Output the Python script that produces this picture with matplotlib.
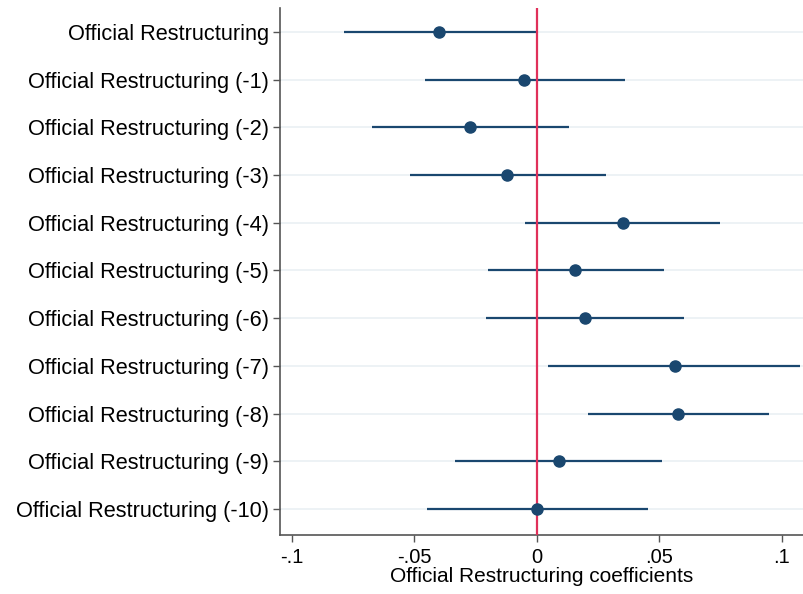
import matplotlib.pyplot as plt
import numpy as np

plt.rcParams['font.family'] = ['Liberation Sans', 'DejaVu Sans']

labels = ['Official Restructuring'] + ['Official Restructuring (-%d)' % i for i in range(1, 11)]
coef = [-0.0400, -0.0053, -0.0273, -0.0122, 0.0351, 0.0155, 0.0196, 0.0563, 0.0576, 0.0090, 0.0000]
ci_low = [-0.0788, -0.0457, -0.0673, -0.0518, -0.0049, -0.0200, -0.0208, 0.0045, 0.0208, -0.0335, -0.0450]
ci_high = [0.0000, 0.0359, 0.0131, 0.0282, 0.0747, 0.0518, 0.0600, 0.1073, 0.0947, 0.0510, 0.0453]

navy = '#1a476f'
red = '#e0305a'

fig = plt.figure(figsize=(8.04, 5.94), dpi=100)
ax = fig.add_axes([0.348, 0.099, 0.652, 0.8875])

y = np.arange(len(labels))
for yi in y:
    ax.axhline(yi, color='#eaf0f3', lw=1.2, zorder=0)

ax.hlines(y, ci_low, ci_high, color=navy, lw=1.6, zorder=2)
ax.axvline(0, color=red, lw=1.6, zorder=3)
ax.plot(coef, y, 'o', color=navy, ms=8, zorder=4)

ax.set_ylim(10.55, -0.5)
ax.set_xlim(-0.1049, 0.1090)
ax.set_yticks(y)
ax.set_yticklabels(labels, fontsize=15.7)
ax.set_xticks([-0.1, -0.05, 0, 0.05, 0.1])
ax.set_xticklabels(['-.1', '-.05', '0', '.05', '.1'], fontsize=14.5)
ax.set_xlabel('Official Restructuring coefficients', fontsize=15, labelpad=0)

for s in ['top', 'right']:
    ax.spines[s].set_visible(False)
for s in ['left', 'bottom']:
    ax.spines[s].set_color('#555555')
    ax.spines[s].set_linewidth(1.2)
ax.tick_params(axis='both', direction='out', length=5, color='#555555', width=1.0)
ax.tick_params(axis='y', pad=3)
ax.tick_params(axis='x', pad=4)

fig.savefig('out.png', dpi=100)
